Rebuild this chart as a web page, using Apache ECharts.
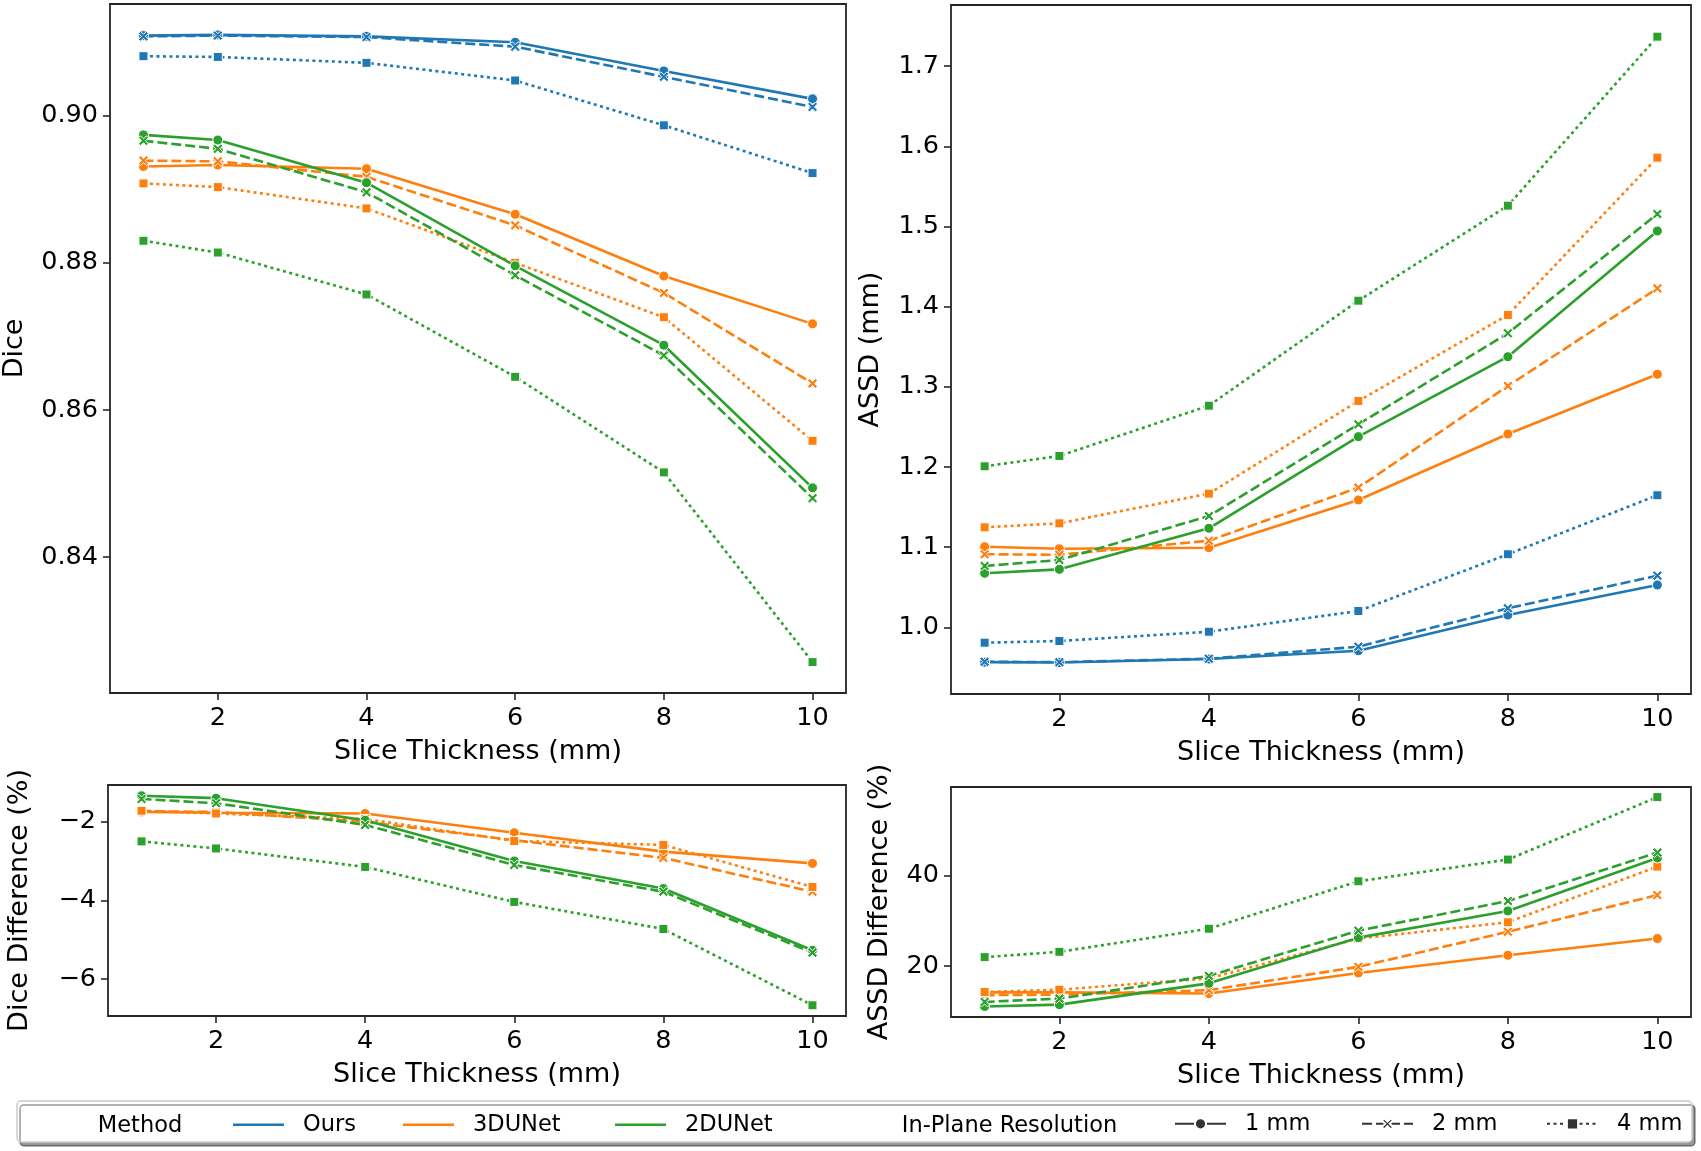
<!DOCTYPE html>
<html><head><meta charset="utf-8">
<script src="https://cdn.jsdelivr.net/npm/echarts@6/dist/echarts.min.js"></script>
<style>html,body{margin:0;padding:0;background:#fff}#c{width:1701px;height:1151px}</style>
</head><body><div id="c"></div>
<script>
// ---------- data ----------
const sliceThickness = [1, 2, 4, 6, 8, 10];
const xTickValues = [2, 4, 6, 8, 10];
const methods = ['Ours', '3DUNet', '2DUNet'];
const resolutions = ['1 mm', '2 mm', '4 mm'];

// Dice (top-left)
const diceOurs1 = [0.9109, 0.9110, 0.9108, 0.9100, 0.9061, 0.9023];
const diceOurs2 = [0.9108, 0.9109, 0.9107, 0.9094, 0.9053, 0.9012];
const diceOurs4 = [0.9081, 0.9080, 0.9072, 0.9048, 0.8987, 0.8922];
const dice3D1 = [0.8931, 0.8933, 0.8928, 0.8866, 0.8782, 0.8717];
const dice3D2 = [0.8939, 0.8938, 0.8917, 0.8851, 0.8759, 0.8636];
const dice3D4 = [0.8908, 0.8903, 0.8874, 0.8800, 0.8726, 0.8558];
const dice2D1 = [0.8974, 0.8967, 0.8909, 0.8796, 0.8688, 0.8494];
const dice2D2 = [0.8966, 0.8955, 0.8896, 0.8783, 0.8674, 0.8480];
const dice2D4 = [0.8830, 0.8814, 0.8757, 0.8645, 0.8515, 0.8257];
const diceTicks = [0.84, 0.86, 0.88, 0.90];

// ASSD (top-right)
const assdOurs1 = [0.9565, 0.9560, 0.9604, 0.9708, 1.0153, 1.0528];
const assdOurs2 = [0.9570, 0.9565, 0.9608, 0.9758, 1.0237, 1.0644];
const assdOurs4 = [0.9808, 0.9829, 0.9945, 1.0203, 1.0911, 1.1647];
const assd3D1 = [1.1005, 1.0980, 1.0993, 1.1588, 1.2411, 1.3156];
const assd3D2 = [1.0911, 1.0905, 1.1080, 1.1742, 1.3010, 1.4228];
const assd3D4 = [1.1247, 1.1297, 1.1667, 1.2823, 1.3896, 1.5858];
const assd2D1 = [1.0674, 1.0723, 1.1235, 1.2378, 1.3375, 1.4943];
const assd2D2 = [1.0765, 1.0840, 1.1388, 1.2532, 1.3667, 1.5155];
const assd2D4 = [1.2008, 1.2137, 1.2764, 1.4074, 1.5259, 1.7367];
const assdTicks = [1.0, 1.1, 1.2, 1.3, 1.4, 1.5, 1.6, 1.7];

// Dice Difference % (bottom-left)
const diceDiff3D1 = [-1.75, -1.77, -1.79, -2.28, -2.76, -3.06];
const diceDiff3D2 = [-1.73, -1.75, -2.00, -2.47, -2.92, -3.78];
const diceDiff3D4 = [-1.72, -1.79, -1.93, -2.49, -2.59, -3.66];
const diceDiff2D1 = [-1.34, -1.40, -1.96, -3.00, -3.70, -5.27];
const diceDiff2D2 = [-1.42, -1.53, -2.08, -3.10, -3.78, -5.33];
const diceDiff2D4 = [-2.50, -2.68, -3.15, -4.04, -4.73, -6.67];
const diceDiffTicks = [-6, -4, -2];

// ASSD Difference % (bottom-right)
const assdDiff3D1 = [14.2, 14.2, 13.95, 18.5, 22.4, 26.1];
const assdDiff3D2 = [13.6, 13.7, 14.7, 19.85, 27.6, 35.7];
const assdDiff3D4 = [14.3, 14.8, 17.3, 26.1, 29.7, 42.0];
const assdDiff2D1 = [11.1, 11.5, 16.2, 26.3, 32.2, 43.9];
const assdDiff2D2 = [12.1, 12.84, 17.86, 27.83, 34.4, 45.1];
const assdDiff2D4 = [21.99, 23.17, 28.27, 38.75, 43.55, 57.35];
const assdDiffTicks = [20, 40];

// ---------- styling ----------
const FONT = 'DejaVu Sans';
const colors = ['#1f77b4', '#ff7f0e', '#2ca02c'];
const lineTypes = ['solid', [10, 4], [3, 3.5]];
const xPath = 'path://M0,2 L2,0 L5,3 L8,0 L10,2 L7,5 L10,8 L8,10 L5,7 L2,10 L0,8 L3,5 Z';
const symbols = ['circle', xPath, 'rect'];
const symbolSizes = [10, 10, 9];
const LW = 2.6;
const frame = '#262626';

const panels = [
  { grid: {left:108, top:4, width:738, height:689}, min:0.8215, max:0.9152, ticks:diceTicks,
    fmt: v => v.toFixed(2), name:'Dice', nameGap:82,
    data: [[diceOurs1, diceOurs2, diceOurs4],[dice3D1, dice3D2, dice3D4],[dice2D1, dice2D2, dice2D4]] },
  { grid: {left:951, top:5, width:740, height:689}, min:0.9168, max:1.7762, ticks:assdTicks,
    fmt: v => v.toFixed(1), name:'ASSD (mm)', nameGap:67,
    data: [[assdOurs1, assdOurs2, assdOurs4],[assd3D1, assd3D2, assd3D4],[assd2D1, assd2D2, assd2D4]] },
  { grid: {left:108, top:785, width:738, height:231}, min:-6.943, max:-1.065, ticks:diceDiffTicks,
    fmt: v => (v < 0 ? '\u2212' : '') + Math.abs(v), name:'Dice Difference (%)', nameGap:75,
    data: [null,[diceDiff3D1, diceDiff3D2, diceDiff3D4],[diceDiff2D1, diceDiff2D2, diceDiff2D4]] },
  { grid: {left:951, top:787, width:740, height:230}, min:8.77, max:59.58, ticks:assdDiffTicks,
    fmt: v => String(v), name:'ASSD Difference (%)', nameGap:58,
    data: [null,[assdDiff3D1, assdDiff3D2, assdDiff3D4],[assdDiff2D1, assdDiff2D2, assdDiff2D4]] }
];

const grids = [], xAxes = [], yAxes = [], series = [];
panels.forEach((p, i) => {
  grids.push(Object.assign({show:true, borderColor:frame, borderWidth:1.8, backgroundColor:'transparent'}, p.grid));
  xAxes.push({
    type:'value', gridIndex:i, min:0.55, max:10.45,
    name:'Slice Thickness (mm)', nameLocation:'middle', nameGap:45,
    nameTextStyle:{fontFamily:FONT, fontSize:27, color:'#000'},
    axisLine:{show:false}, splitLine:{show:false},
    axisTick:{show:true, length:7, customValues:xTickValues, lineStyle:{color:frame, width:1.6}},
    axisLabel:{customValues:xTickValues, margin:12, fontFamily:FONT, fontSize:25.5, color:'#000'}
  });
  yAxes.push({
    type:'value', gridIndex:i, min:p.min, max:p.max,
    name:p.name, nameLocation:'middle', nameGap:p.nameGap,
    nameTextStyle:{fontFamily:FONT, fontSize:27, color:'#000'},
    axisLine:{show:false}, splitLine:{show:false},
    axisTick:{show:true, length:7, customValues:p.ticks, lineStyle:{color:frame, width:1.6}},
    axisLabel:{customValues:p.ticks, margin:12, fontFamily:FONT, fontSize:25.5, color:'#000', formatter:p.fmt}
  });
  p.data.forEach((group, m) => {
    if (!group) return;
    group.forEach((vals, r) => {
      series.push({
        type:'line', name: methods[m] + ' ' + resolutions[r] + ' #' + i,
        xAxisIndex:i, yAxisIndex:i,
        data: sliceThickness.map((x, k) => [x, vals[k]]),
        symbol: symbols[r], symbolSize: symbolSizes[r], showSymbol:true,
        lineStyle:{color:colors[m], width:LW, type:lineTypes[r]},
        itemStyle:{color:colors[m], borderColor:'#fff', borderWidth:1},
        emphasis:{disabled:true}, animation:false, z: 2 + m
      });
    });
  });
});

// dummy series for legend handles
methods.forEach((m, k) => series.push({
  type:'line', name:m, xAxisIndex:0, yAxisIndex:0, data:[], symbol:'none',
  lineStyle:{color:colors[k], width:LW}, itemStyle:{color:colors[k]}
}));
resolutions.forEach((r, k) => series.push({
  type:'line', name:r, xAxisIndex:0, yAxisIndex:0, data:[], symbol:symbols[k], symbolSize:symbolSizes[k],
  lineStyle:{color:'#333333', width:LW, type:lineTypes[k]}, itemStyle:{color:'#333333', borderColor:'#fff', borderWidth:1}
}));

const legendPos = [233, 403, 615, 1174, 1361, 1546];
const legendNames = methods.concat(resolutions);
const legends = legendNames.map((n, k) => {
  const isMethod = k < 3;
  return {
    data:[isMethod ? {name:n, icon:'rect'} : n],
    left: legendPos[k], top: isMethod ? 1113.2 : 1112.3, padding:0, itemWidth:51, itemHeight: isMethod ? 2.6 : 14,
    selectedMode:false, itemGap:0,
    textStyle:{fontFamily:FONT, fontSize:22.5, color:'#000', padding:[0,0,0,14]}
  };
});

const chart = echarts.init(document.getElementById('c'), null, {renderer:'canvas'});
chart.setOption({
  animation:false,
  backgroundColor:'#fff',
  grid: grids, xAxis: xAxes, yAxis: yAxes, series: series,
  legend: legends,
  graphic: [
    { type:'rect', z:1, shape:{x:17, y:1101, width:1675, height:41, r:4},
      style:{fill:'#fff', stroke:'#cccccc', lineWidth:1.5, shadowColor:'rgba(0,0,0,0.4)', shadowOffsetX:3, shadowOffsetY:4, shadowBlur:0} },
    { type:'text', z:2, x:140, y:1126, style:{text:'Method', fontFamily:FONT, fontSize:22.5, fill:'#000', align:'center', verticalAlign:'middle'} },
    { type:'text', z:2, x:1009.5, y:1126, style:{text:'In-Plane Resolution', fontFamily:FONT, fontSize:22.5, fill:'#000', align:'center', verticalAlign:'middle'} }
  ]
});
</script>
</body></html>
